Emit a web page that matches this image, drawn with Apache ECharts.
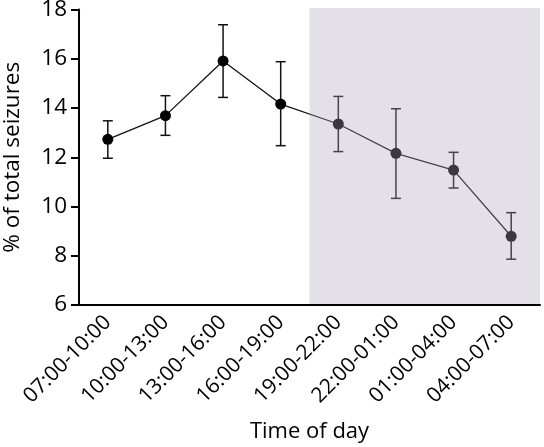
<!DOCTYPE html>
<html><head><meta charset="utf-8">
<script src="https://cdn.jsdelivr.net/npm/echarts@6/dist/echarts.min.js"></script>
<style>html,body{margin:0;padding:0;background:#fff}#c{width:544px;height:447px}</style>
</head><body><div id="c"></div>
<script>
const categories = ['07:00-10:00','10:00-13:00','13:00-16:00','16:00-19:00','19:00-22:00','22:00-01:00','01:00-04:00','04:00-07:00'];
const meanValues  = [12.73, 13.69, 15.91, 14.16, 13.35, 12.16, 11.48, 8.79];
const upperValues = [13.48, 14.50, 17.38, 15.88, 14.47, 13.97, 12.20, 9.75];
const lowerValues = [11.96, 12.89, 14.43, 12.47, 12.23, 10.33, 10.75, 7.86];
const yMin = 6, yMax = 18, yStep = 2;
const shadeFrom = '19:00-22:00', shadeTo = '04:00-07:00';

const FONT = 'Open Sans';
const chart = echarts.init(document.getElementById('c'), null, {renderer: 'canvas'});

const errData = categories.map((c, i) => [i, lowerValues[i], upperValues[i]]);
const shadeData = [[categories.indexOf(shadeFrom), categories.indexOf(shadeTo)]];

chart.setOption({
  animation: false,
  backgroundColor: '#fff',
  grid: {left: 79, right: 4, top: 9.5, bottom: 142, containLabel: false, outerBoundsMode: 'none'},
  xAxis: {
    type: 'category', data: categories, boundaryGap: true, z: 20,
    name: 'Time of day', nameLocation: 'middle', nameGap: 116,
    nameTextStyle: {fontFamily: FONT, fontSize: 22, color: '#000'},
    axisLine: {lineStyle: {color: '#000', width: 2}},
    axisTick: {alignWithLabel: true, length: 8, lineStyle: {color: '#000', width: 2}},
    axisLabel: {rotate: 45, fontFamily: FONT, fontSize: 21, color: '#000', margin: 14, interval: 0},
    splitLine: {show: false}
  },
  yAxis: {
    type: 'value', min: yMin, max: yMax, interval: yStep, z: 20,
    name: '% of total seizures', nameLocation: 'middle', nameGap: 55, nameRotate: 90,
    nameTextStyle: {fontFamily: FONT, fontSize: 22.5, color: '#000'},
    axisLine: {show: true, lineStyle: {color: '#000', width: 2}},
    axisTick: {show: true, length: 8, lineStyle: {color: '#000', width: 2}},
    axisLabel: {fontFamily: FONT, fontSize: 22.5, color: '#000', margin: 12},
    splitLine: {show: false}
  },
  series: [
    {
      type: 'custom', name: 'shade', z: 10, silent: true,
      data: shadeData,
      encode: {x: 0, y: 1},
      renderItem: function (params, api) {
        const bw = api.size([1, 0])[0];
        const p0 = api.coord([api.value(0), yMax]);
        const p1 = api.coord([api.value(1), yMin]);
        const x0 = p0[0] - bw / 2, x1 = p1[0] + bw / 2;
        return {type: 'rect', shape: {x: x0, y: p0[1] - 1.5, width: x1 - x0, height: p1[1] - p0[1] + 1.5},
          style: {fill: 'rgba(172,165,185,0.34)'}};
      }
    },
    {
      type: 'custom', name: 'err', z: 3, silent: true,
      data: errData,
      encode: {x: 0, y: [1, 2]},
      renderItem: function (params, api) {
        const i = api.value(0);
        const lo = api.coord([i, api.value(1)]);
        const hi = api.coord([i, api.value(2)]);
        const h = 5;
        const st = {stroke: '#111', lineWidth: 1.5};
        return {type: 'group', children: [
          {type: 'line', shape: {x1: hi[0], y1: hi[1], x2: lo[0], y2: lo[1]}, style: st},
          {type: 'line', shape: {x1: hi[0] - h, y1: hi[1], x2: hi[0] + h, y2: hi[1]}, style: st},
          {type: 'line', shape: {x1: lo[0] - h, y1: lo[1], x2: lo[0] + h, y2: lo[1]}, style: st}
        ]};
      }
    },
    {
      type: 'line', name: 'mean', z: 4, data: meanValues,
      symbol: 'circle', symbolSize: 11, showSymbol: true,
      itemStyle: {color: '#000'},
      lineStyle: {color: '#111', width: 1.3}
    }
  ]
});
</script>
</body></html>
